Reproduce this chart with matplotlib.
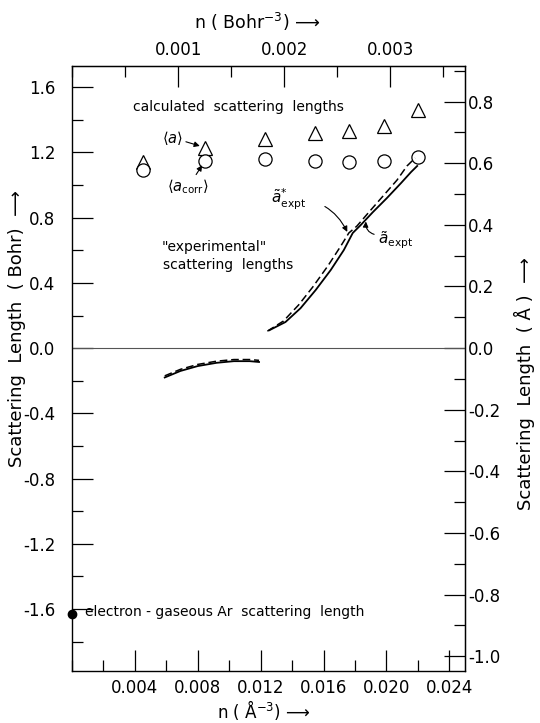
import numpy as np
import matplotlib
matplotlib.use('Agg')
import matplotlib.pyplot as plt
from matplotlib.ticker import MultipleLocator, FixedLocator, FormatStrFormatter

BOHR = 0.529177  # Angstrom per Bohr

# calculated scattering lengths (n in A^-3, length in Bohr)
n_calc = [0.0045, 0.00847, 0.0123, 0.01545, 0.0176, 0.01985, 0.0220]
a_avg = [1.14, 1.23, 1.28, 1.32, 1.33, 1.36, 1.46]
a_corr = [1.09, 1.15, 1.16, 1.15, 1.14, 1.15, 1.17]

# "experimental" curves, low density branch
n_low = [0.0059, 0.0069, 0.0080, 0.0092, 0.0103, 0.0113, 0.0119]
a_expt_low = [-0.18, -0.14, -0.11, -0.09, -0.08, -0.08, -0.085]
a_star_low = [-0.17, -0.13, -0.10, -0.08, -0.07, -0.07, -0.075]

# high density branch
n_high = [0.01256, 0.01358, 0.01454, 0.01550, 0.01646, 0.01729, 0.01786,
          0.01837, 0.01914, 0.02003, 0.02093, 0.02157, 0.02196]
a_expt_high = [0.110, 0.160, 0.245, 0.356, 0.479, 0.601, 0.706,
               0.755, 0.834, 0.920, 1.012, 1.080, 1.117]
n_high_star = [0.01243, 0.01345, 0.01441, 0.01531, 0.01627, 0.01710, 0.01761,
               0.01812, 0.01889, 0.01979, 0.02068, 0.02131, 0.02183]
a_star_high = [0.104, 0.166, 0.264, 0.374, 0.503, 0.626, 0.706,
               0.748, 0.834, 0.933, 1.031, 1.117, 1.166]

# electron - gaseous Ar
a_gas = -1.63

plt.rcParams['font.family'] = 'DejaVu Sans'
fig = plt.figure(figsize=(5.4, 7.23), dpi=100)
ax = fig.add_axes([0.1333, 0.0719, 0.7278, 0.8368])

ax.plot(n_calc, a_avg, linestyle='none', marker='^', markersize=10,
        markerfacecolor='white', markeredgecolor='black', markeredgewidth=0.9)
ax.plot(n_calc, a_corr, linestyle='none', marker='o', markersize=9.5,
        markerfacecolor='white', markeredgecolor='black', markeredgewidth=0.9)

ax.plot(n_low, a_expt_low, color='black', lw=1.3)
ax.plot(n_low, a_star_low, color='black', lw=1.1, linestyle=(0, (5, 2.5)))
ax.plot(n_high, a_expt_high, color='black', lw=1.3)
ax.plot(n_high_star, a_star_high, color='black', lw=1.1, linestyle=(0, (5, 2.5)))

ax.plot([0.0], [a_gas], marker='o', color='black', markersize=6, clip_on=False, zorder=5)
ax.axhline(0.0, color='#555555', lw=0.8)

ax.set_xlim(0, 0.025)
ax.set_ylim(-1.98, 1.73)

for s in ax.spines.values():
    s.set_linewidth(1.0)

ax.xaxis.set_major_locator(FixedLocator([0.004, 0.008, 0.012, 0.016, 0.020, 0.024]))
ax.xaxis.set_minor_locator(MultipleLocator(0.002))
ax.xaxis.set_major_formatter(FormatStrFormatter('%.3f'))
ax.yaxis.set_major_locator(MultipleLocator(0.4))
ax.yaxis.set_minor_locator(MultipleLocator(0.2))
ax.yaxis.set_major_formatter(FormatStrFormatter('%.1f'))
ax.tick_params(which='major', direction='in', length=15, width=0.9, labelsize=12, pad=6)
ax.tick_params(axis='y', which='major', pad=12)
ax.tick_params(which='minor', direction='in', length=8, width=0.9)

# top axis in Bohr^-3, right axis in Angstrom
dens = BOHR ** 3
top = ax.secondary_xaxis('top', functions=(lambda x: x * dens, lambda x: x / dens))
top.xaxis.set_major_locator(FixedLocator([0.001, 0.002, 0.003]))
top.xaxis.set_minor_locator(MultipleLocator(0.0005))
top.xaxis.set_major_formatter(FormatStrFormatter('%.3f'))
top.tick_params(which='major', direction='in', length=15, width=0.9, labelsize=12, pad=5)
top.tick_params(which='minor', direction='in', length=8, width=0.9)

right = ax.secondary_yaxis('right', functions=(lambda y: y * BOHR, lambda y: y / BOHR))
right.yaxis.set_major_locator(MultipleLocator(0.2))
right.yaxis.set_minor_locator(MultipleLocator(0.1))
right.yaxis.set_major_formatter(FormatStrFormatter('%.1f'))
right.tick_params(which='major', direction='in', length=15, width=0.9, labelsize=12, pad=2)
right.tick_params(which='minor', direction='in', length=8, width=0.9)

# axis titles
fig.text(0.476, 0.970, r'n ( Bohr$^{-3}$) ⟶', fontsize=12.5, ha='center', va='center')
fig.text(0.489, 0.018, r'n ( Å$^{-3}$) ⟶', fontsize=12, ha='center', va='center')
fig.text(0.0315, 0.546, 'Scattering  Length  ( Bohr)  ⟶', fontsize=13, rotation=90,
         ha='center', va='center')
fig.text(0.972, 0.470, 'Scattering  Length  ( Å )  ⟶', fontsize=13, rotation=90,
         ha='center', va='center')

# annotations
ax.text(0.0039, 1.48, 'calculated  scattering  lengths', fontsize=10, va='center')
ax.text(0.0057, 0.62, '"experimental"', fontsize=10, va='center')
ax.text(0.0058, 0.51, 'scattering  lengths', fontsize=10, va='center')
ax.text(0.00085, a_gas + 0.01, 'electron - gaseous Ar  scattering  length', fontsize=10, va='center')

arr = dict(arrowstyle='-|>', color='black', lw=0.8, mutation_scale=8, shrinkA=0, shrinkB=4)
ax.annotate(r'$\langle a\rangle$', xy=(n_calc[1], a_avg[1]), xytext=(0.0064, 1.29),
            fontsize=10.5, va='center', ha='center', arrowprops=arr)
ax.annotate(r'$\langle a_{\rm corr}\rangle$', xy=(n_calc[1], a_corr[1]), xytext=(0.0074, 0.99),
            fontsize=10.5, va='center', ha='center', arrowprops=arr)
ax.annotate(r'$\tilde{a}^{*}_{\rm expt}$', xy=(0.01755, 0.705), xytext=(0.0138, 0.91),
            fontsize=11, va='center', ha='center',
            arrowprops=dict(arrowstyle='-|>', color='black', lw=0.8, mutation_scale=8,
                            shrinkA=12, shrinkB=1, connectionstyle='arc3,rad=-0.35'))
ax.annotate(r'$\tilde{a}_{\rm expt}$', xy=(0.01870, 0.785), xytext=(0.0206, 0.66),
            fontsize=11, va='center', ha='center',
            arrowprops=dict(arrowstyle='-|>', color='black', lw=0.8, mutation_scale=8,
                            shrinkA=1, shrinkB=1, connectionstyle='arc3,rad=-0.5',
                            relpos=(0.0, 0.75)))

fig.savefig('out.png', dpi=100)
